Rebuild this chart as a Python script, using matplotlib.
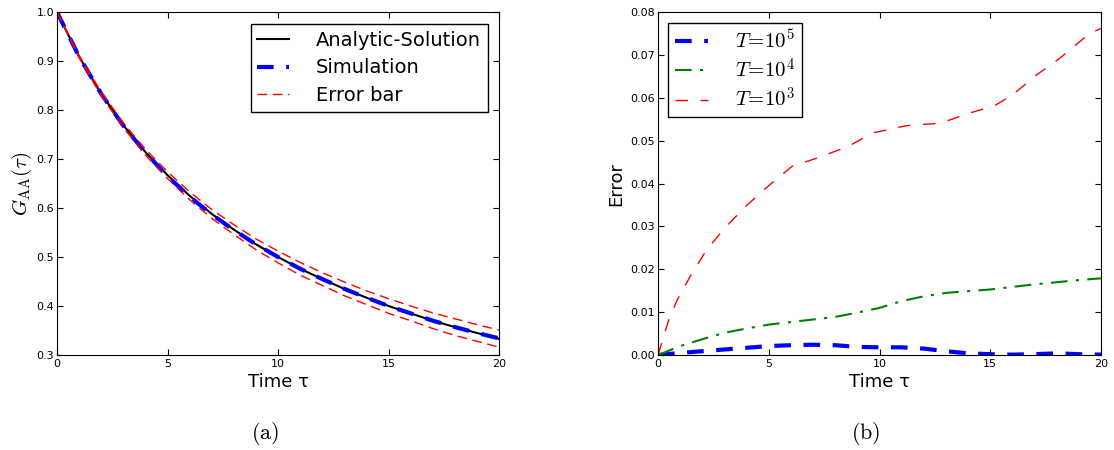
import numpy as np
import matplotlib.pyplot as plt
from matplotlib.ticker import FormatStrFormatter

plt.rcParams['mathtext.fontset'] = 'cm'
plt.rcParams['xtick.direction'] = 'in'
plt.rcParams['ytick.direction'] = 'in'
plt.rcParams['xtick.top'] = True
plt.rcParams['ytick.right'] = True

# values
t = [0, 1, 2, 3, 4, 5, 6, 7, 8, 9, 10, 11, 12, 13, 14, 15, 16, 17, 18, 19, 20]
analytic = [1.0, 0.909, 0.833, 0.769, 0.714, 0.667, 0.625, 0.588, 0.556, 0.526, 0.500,
            0.476, 0.455, 0.435, 0.417, 0.400, 0.385, 0.370, 0.357, 0.345, 0.333]
simulation = [1.0, 0.909, 0.833, 0.768, 0.713, 0.665, 0.623, 0.587, 0.555, 0.526, 0.500,
              0.476, 0.455, 0.435, 0.417, 0.400, 0.385, 0.370, 0.357, 0.345, 0.334]
err_up = [1.0, 0.911, 0.837, 0.774, 0.720, 0.674, 0.633, 0.597, 0.566, 0.537, 0.512,
          0.489, 0.468, 0.449, 0.431, 0.415, 0.400, 0.386, 0.374, 0.362, 0.351]
err_low = [1.0, 0.907, 0.829, 0.764, 0.708, 0.660, 0.617, 0.579, 0.546, 0.515, 0.488,
           0.463, 0.442, 0.421, 0.403, 0.385, 0.370, 0.354, 0.340, 0.328, 0.316]

err_t5 = [0.0, 0.0005, 0.0009, 0.0013, 0.0017, 0.0021, 0.0023, 0.0024, 0.0023, 0.0019, 0.0018,
          0.0018, 0.0015, 0.0009, 0.0004, 0.0002, 0.0001, 0.0002, 0.0004, 0.0002, 0.0001]
err_t4 = [0.0, 0.0021, 0.0037, 0.0052, 0.0062, 0.0071, 0.0077, 0.0083, 0.0089, 0.0099, 0.0110,
          0.0126, 0.0137, 0.0145, 0.0149, 0.0153, 0.0159, 0.0165, 0.0170, 0.0175, 0.0179]
t3 = [0, 0.5, 0.88, 1.5, 2.2, 3.04, 3.96, 4.97, 6.04, 7.2, 8.6, 9.67, 11.2, 12.75, 14.1,
      15.2, 16.0, 17.1, 18.15, 19.5, 20]
err_t3 = [0.0, 0.0085, 0.013, 0.0188, 0.0246, 0.0298, 0.0347, 0.0394, 0.044, 0.046, 0.0487,
          0.0518, 0.0535, 0.0541, 0.0565, 0.0582, 0.0607, 0.0654, 0.0693, 0.0751, 0.0762]

fig = plt.figure(figsize=(11.14, 4.5), dpi=100)
ax1 = fig.add_axes([0.0512, 0.211, 0.397, 0.762])
ax2 = fig.add_axes([0.5907, 0.211, 0.3977, 0.762])

ax1.plot(t, analytic, color='k', lw=1.5, label='Analytic-Solution')
ax1.plot(t, simulation, color='b', lw=3, ls='--', dashes=(4, 3), label='Simulation')
ax1.plot(t, err_up, color='r', lw=1, ls='--', dashes=(7, 4), label='Error bar')
ax1.plot(t, err_low, color='r', lw=1, ls='--', dashes=(7, 4))
ax1.set_xlim(0, 20)
ax1.set_ylim(0.3, 1.0)
ax1.set_xticks([0, 5, 10, 15, 20])
ax1.yaxis.set_major_formatter(FormatStrFormatter('%.1f'))
ax1.set_xlabel('Time τ', fontsize=13, labelpad=3)
ax1.set_ylabel(r'$G_{\mathrm{AA}}(\tau)$', fontsize=15, labelpad=2)
ax1.legend(loc='upper right', fontsize=14, fancybox=False, edgecolor='k',
           handlelength=1.6, handletextpad=1.4, borderpad=0.35, labelspacing=0.45,
           borderaxespad=0.6, framealpha=1).get_frame().set_linewidth(1)

ax2.plot(t, err_t5, color='b', lw=3, ls='--', dashes=(4, 3), label=r'$T\!=\!10^5$')
ax2.plot(t, err_t4, color='g', lw=1.5, ls='-.', dashes=(8, 4, 1.5, 4), label=r'$T\!=\!10^4$')
ax2.plot(t3, err_t3, color='r', lw=1, ls='--', dashes=(9, 9), label=r'$T\!=\!10^3$')
ax2.set_xlim(0, 20)
ax2.set_ylim(0, 0.08)
ax2.set_xticks([0, 5, 10, 15, 20])
ax2.yaxis.set_major_formatter(FormatStrFormatter('%.2f'))
ax2.set_xlabel('Time τ', fontsize=13, labelpad=3)
ax2.set_ylabel('Error', fontsize=13, labelpad=4)
ax2.legend(loc='upper left', fontsize=15, fancybox=False, edgecolor='k',
           handlelength=1.6, handletextpad=1.3, borderpad=0.3, labelspacing=0.25,
           framealpha=1).get_frame().set_linewidth(1)

for ax in (ax1, ax2):
    ax.tick_params(labelsize=8, length=4)
    ax.tick_params(axis='x', pad=3)
    ax.tick_params(axis='y', pad=2)

fig.text(0.238, 0.025, r'$\mathrm{(a)}$', fontsize=16, ha='center')
fig.text(0.777, 0.025, r'$\mathrm{(b)}$', fontsize=16, ha='center')

fig.savefig('out.png', dpi=100)
